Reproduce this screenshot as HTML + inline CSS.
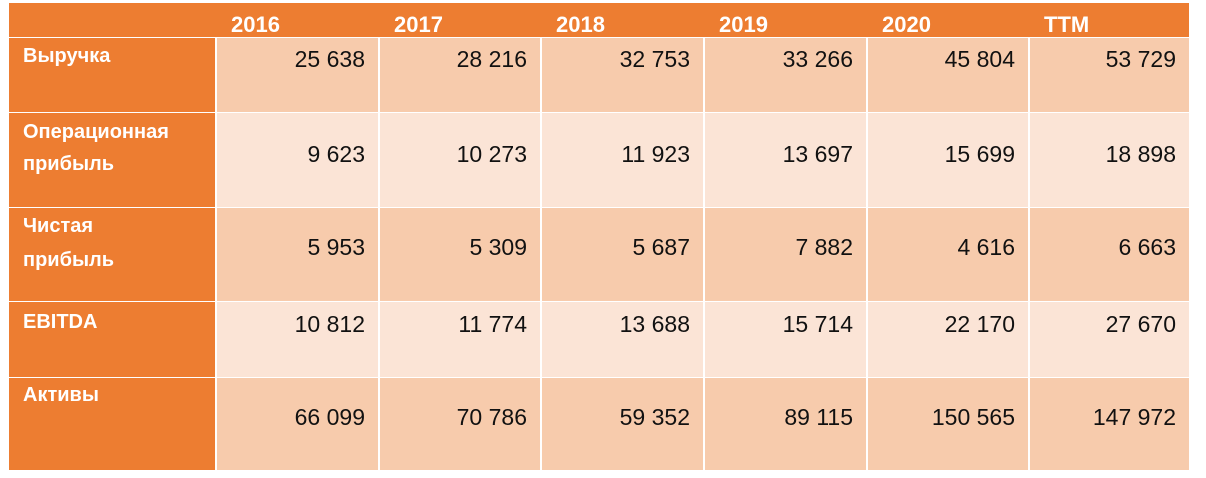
<!DOCTYPE html>
<html><head><meta charset="utf-8">
<style>
body{margin:0;width:1206px;height:478px;background:#fff;position:relative;overflow:hidden;font-family:"Liberation Sans",sans-serif}
.c{position:absolute;box-sizing:border-box}
.t{position:absolute;white-space:nowrap}
</style></head><body>
<div id="tbl"></div>
<script>
const years=["2016","2017","2018","2019","2020","TTM"];
const labels=[["Выручка"],["Операционная","прибыль"],["Чистая","прибыль"],["EBITDA"],["Активы"]];
const values=[
["25 638","28 216","32 753","33 266","45 804","53 729"],
["9 623","10 273","11 923","13 697","15 699","18 898"],
["5 953","5 309","5 687","7 882","4 616","6 663"],
["10 812","11 774","13 688","15 714","22 170","27 670"],
["66 099","70 786","59 352","89 115","150 565","147 972"]];
const colX=[9,215,378,540,703,866,1028,1189];
const rowY=[3,37,112,207,301,377,470];
const numY=[60,155,248,325,418];
const labY=[[57],[133,165],[227,261],[323],[396]];
const root=document.getElementById('tbl');
function cell(x,y,w,h,bg,name){const d=document.createElement('div');d.className='c';
d.style.cssText=`left:${x}px;top:${y}px;width:${w}px;height:${h}px;background:${bg}`;


root.appendChild(d);return d;}
function text(s,x,y,css,name){const t=document.createElement('div');t.className='t';t.textContent=s;
t.style.cssText=`top:${y}px;line-height:1;`+css+(x!==null?`left:${x}px;`:'');


root.appendChild(t);return t;}
cell(colX[0],rowY[0],colX[7]-colX[0],rowY[1]-rowY[0],'#ED7D31','header-row');
years.forEach((y,i)=>{text(y,colX[i+1]+16,rowY[0]+22-11,'font-size:22px;font-weight:bold;color:#fff;','year-header');});
for(let r=0;r<5;r++){
 const y0=rowY[r+1]+1,h=rowY[r+2]-rowY[r+1]-1;
 cell(colX[0],y0,colX[1]-colX[0],h,'#ED7D31','row-label-cell');
 labels[r].forEach((l,k)=>text(l,23,labY[r][k]-11,'font-size:20px;font-weight:bold;color:#fff;','row-label'));
 const bg=r%2==0?'#F7CBAC':'#FBE4D6';
 for(let c=0;c<6;c++){
  const x=colX[c+1]+2,w=colX[c+2]-colX[c+1]-2;
  cell(x,y0,w,h,bg,'value-cell');
  const t=text(values[r][c],null,numY[r]-12,`font-size:23px;color:#111;right:${1206-colX[c+2]+13}px;`,'value');
 }
}
</script>
</body></html>
